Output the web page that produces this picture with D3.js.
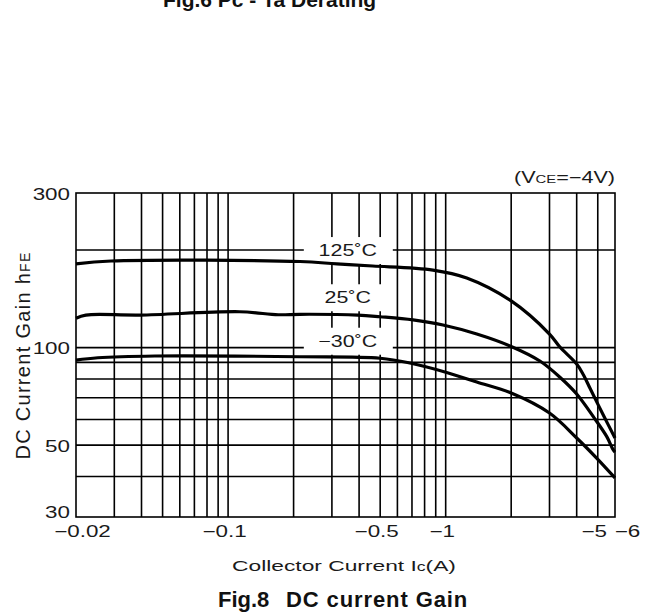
<!DOCTYPE html>
<html><head><meta charset="utf-8">
<script src="https://cdn.jsdelivr.net/npm/d3@7"></script>
<style>html,body{margin:0;padding:0;background:#fff;} svg{display:block;}</style>
</head><body>
<svg id="c" width="645" height="612"></svg>
<script>
// ---- data ----
const icTicks = [0.02, 0.1, 0.5, 1, 5, 6];
const icTickLabels = ["\u22120.02", "\u22120.1", "\u22120.5", "\u22121", "\u22125", "\u22126"];
const icGrid = [0.03,0.04,0.05,0.06,0.07,0.08,0.09,0.1,0.2,0.3,0.4,0.5,0.6,0.7,0.8,0.9,1,2,3,4,5];
const hfeTicks = [30, 50, 100, 300];
const hfeTickLabels = ["30", "50", "100", "300"];
const hfeGrid = [40,50,60,70,80,90,100,200];

const seriesNames = ["125\u02DAC", "25\u02DAC", "\u221230\u02DAC"];
const labelIc = [0.355, 0.355, 0.355];
const labelHfe = [200, 143, 105];

const ic125  = [0.02, 0.029, 0.214, 0.316, 0.462, 0.874, 1.25, 2, 3, 3.35, 4, 4.3, 4.6, 5.3, 6];
const hfe125 = [181.2, 185, 184.4, 181.2, 178.6, 173.5, 164, 139.3, 110.1, 100.4, 89.0, 82.3, 75.0, 61.9, 52.6];

const ic25  = [0.02, 0.0222, 0.0394, 0.113, 0.17, 0.214, 0.395, 0.5, 0.708, 0.972, 1.39, 2, 2.71, 3.35, 4, 4.77, 5.5, 5.89, 6];
const hfe25 = [123.2, 126, 126, 129, 126.3, 126.7, 126, 124.5, 121.7, 117.4, 110.1, 100.8, 90.9, 81.0, 71.9, 61.2, 53.1, 48.3, 47.6];

const icM30  = [0.02, 0.0252, 0.0461, 0.214, 0.5, 0.685, 1.01, 1.39, 2, 3, 4, 4.94, 6];
const hfeM30 = [91.5, 93.05, 94.2, 93.7, 92.7, 89.6, 83.8, 78.3, 72.4, 62.8, 52.6, 45.6, 39.6];

const series = [
  {name: seriesNames[0], pts: d3.zip(ic125, hfe125)},
  {name: seriesNames[1], pts: d3.zip(ic25, hfe25)},
  {name: seriesNames[2], pts: d3.zip(icM30, hfeM30)}
];

// ---- layout ----
const L = 76, R = 615, T = 193, B = 517;
const FONT = "'Liberation Sans', Arial, Helvetica, sans-serif";
const INK = "#1a1a1a";
const SX = 1.4;

const svg = d3.select("#c");
svg.append("rect").attr("width", 645).attr("height", 612).attr("fill", "#fff");

const x = d3.scaleLog().domain([0.02, 6]).range([L, R]);
const y = d3.scaleLog().domain([30, 300]).range([B, T]);

// grid
const g = svg.append("g").attr("stroke", "#000").attr("stroke-width", 1.6);
g.selectAll("line.v").data(icGrid).join("line")
  .attr("x1", d => x(d)).attr("x2", d => x(d)).attr("y1", T).attr("y2", B);
g.selectAll("line.h").data(hfeGrid).join("line")
  .attr("y1", d => y(d)).attr("y2", d => y(d)).attr("x1", L).attr("x2", R);
g.append("rect").attr("x", L).attr("y", T).attr("width", R - L).attr("height", B - T)
  .attr("fill", "none");

// label masks + labels
const lab = svg.append("g");
series.forEach((s, i) => {
  const cx = x(labelIc[i]), cy = y(labelHfe[i]);
  lab.append("rect").attr("x", cx - 44).attr("y", cy - 13).attr("width", 89).attr("height", 27)
    .attr("fill", "#fff");
  lab.append("text").attr("transform", `translate(${cx},${cy + 6}) scale(1.3,1)`)
    .attr("text-anchor", "middle").attr("font-family", FONT).attr("font-size", 16.5)
    .attr("fill", INK).text(s.name);
});

// curves
const line = d3.line().x(d => x(d[0])).y(d => y(d[1])).curve(d3.curveCatmullRom.alpha(0.5));
svg.append("g").selectAll("path").data(series).join("path")
  .attr("d", d => line(d.pts)).attr("fill", "none").attr("stroke", "#000")
  .attr("stroke-width", 3.2).attr("stroke-linejoin", "round");

// x axis
const xa = svg.append("g").attr("transform", `translate(0,${B})`)
  .call(d3.axisBottom(x).tickValues(icTicks).tickSize(0).tickFormat((d, i) => icTickLabels[i]));
xa.select(".domain").remove();
xa.selectAll("text").attr("y", null).attr("dy", null)
  .attr("font-family", FONT).attr("font-size", 16).attr("fill", INK)
  .attr("transform", (d, i) => {
    const dx = i === 0 ? 6 : (i === icTicks.length - 1 ? 12 : -4);
    return `translate(${dx},20) scale(${SX},1)`;
  });

// y axis
const ya = svg.append("g").attr("transform", `translate(${L},0)`)
  .call(d3.axisLeft(y).tickValues(hfeTicks).tickSize(0).tickFormat((d, i) => hfeTickLabels[i]));
ya.select(".domain").remove();
ya.selectAll("text").attr("x", 0).attr("dy", null)
  .attr("font-family", FONT).attr("font-size", 16).attr("fill", INK)
  .attr("transform", (d, i) => `translate(-6,${i === 0 ? 0 : 6}) scale(${SX},1)`);

// axis titles
const xt = svg.append("text").attr("transform", `translate(344,571) scale(1.47,1)`)
  .attr("text-anchor", "middle").attr("font-family", FONT).attr("font-size", 15.5).attr("fill", INK);
xt.append("tspan").text("Collector Current I");
xt.append("tspan").attr("font-size", 12).text("c");
xt.append("tspan").text("(A)");

const yt = svg.append("text").attr("transform", `translate(30,355.5) rotate(-90)`)
  .attr("text-anchor", "middle").attr("font-family", FONT).attr("font-size", 20)
  .attr("letter-spacing", 1.3).attr("fill", INK);
yt.append("tspan").text("DC Current Gain h");
yt.append("tspan").attr("font-size", 14).text("FE");

const vt = svg.append("text").attr("transform", `translate(615,183) scale(1.35,1)`)
  .attr("text-anchor", "end").attr("font-family", FONT).attr("font-size", 16).attr("fill", INK);
vt.append("tspan").text("(V");
vt.append("tspan").attr("font-size", 11).text("CE");
vt.append("tspan").text("=\u22124V)");

// figure captions
svg.append("text").attr("x", 218).attr("y", 607).attr("font-family", FONT)
  .attr("font-weight", "bold").attr("font-size", 22).attr("fill", "#111").text("Fig.8");
svg.append("text").attr("x", 286).attr("y", 607).attr("font-family", FONT)
  .attr("font-weight", "bold").attr("font-size", 22).attr("letter-spacing", 0.9)
  .attr("fill", "#111").text("DC current Gain");
svg.append("text").attr("x", 163).attr("y", 7).attr("font-family", FONT)
  .attr("font-weight", "bold").attr("font-size", 21).attr("fill", "#111").text("Fig.6 Pc - Ta Derating");
</script>
</body></html>
